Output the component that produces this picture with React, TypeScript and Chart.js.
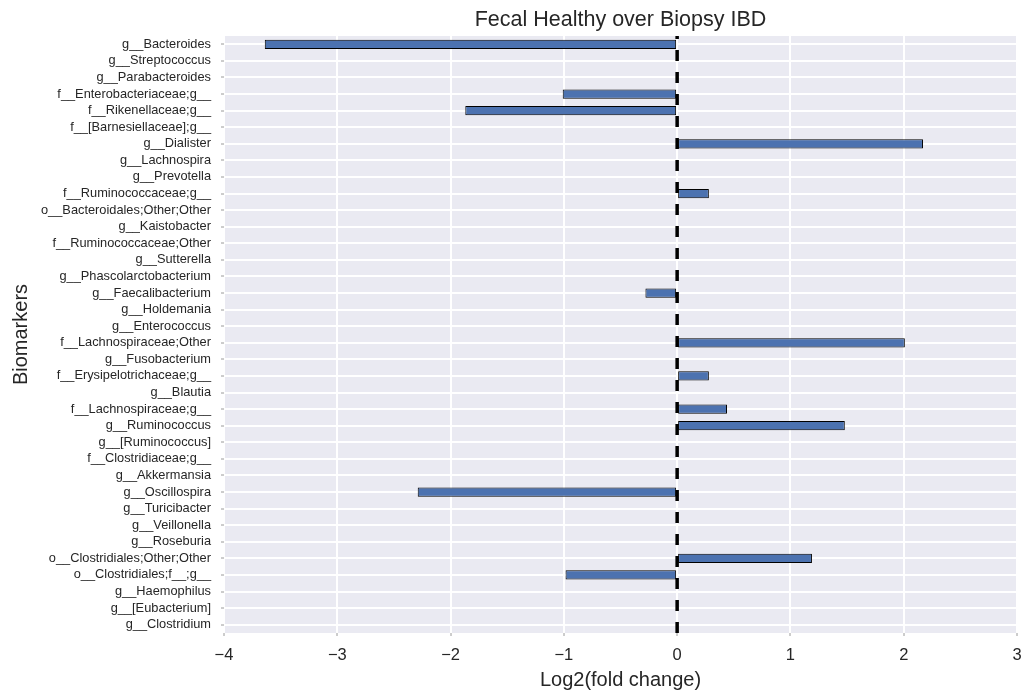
import React, { useEffect, useRef } from "react";
import { Chart, registerables } from "chart.js";

Chart.register(...registerables);

const categories: string[] = [
  "g__Bacteroides",
  "g__Streptococcus",
  "g__Parabacteroides",
  "f__Enterobacteriaceae;g__",
  "f__Rikenellaceae;g__",
  "f__[Barnesiellaceae];g__",
  "g__Dialister",
  "g__Lachnospira",
  "g__Prevotella",
  "f__Ruminococcaceae;g__",
  "o__Bacteroidales;Other;Other",
  "g__Kaistobacter",
  "f__Ruminococcaceae;Other",
  "g__Sutterella",
  "g__Phascolarctobacterium",
  "g__Faecalibacterium",
  "g__Holdemania",
  "g__Enterococcus",
  "f__Lachnospiraceae;Other",
  "g__Fusobacterium",
  "f__Erysipelotrichaceae;g__",
  "g__Blautia",
  "f__Lachnospiraceae;g__",
  "g__Ruminococcus",
  "g__[Ruminococcus]",
  "f__Clostridiaceae;g__",
  "g__Akkermansia",
  "g__Oscillospira",
  "g__Turicibacter",
  "g__Veillonella",
  "g__Roseburia",
  "o__Clostridiales;Other;Other",
  "o__Clostridiales;f__;g__",
  "g__Haemophilus",
  "g__[Eubacterium]",
  "g__Clostridium",
];

const log2FoldChange: number[] = [
  -3.64, 0, 0, -1.01, -1.87, 0, 2.17, 0, 0, 0.28, 0, 0, 0, 0, 0, -0.28, 0, 0,
  2.01, 0, 0.28, 0, 0.44, 1.48, 0, 0, 0, -2.29, 0, 0, 0, 1.19, -0.985, 0, 0, 0,
];

const xTicks: number[] = [-4, -3, -2, -1, 0, 1, 2, 3];

const titleText = "Fecal Healthy over Biopsy IBD";
const xTitle = "Log2(fold change)";
const yTitle = "Biomarkers";

const FONT = "'Liberation Sans', Arial, sans-serif";
const TEXT = "#262626";

const bgPlugin = {
  id: "bgPlugin",
  beforeDraw(chart: any) {
    const { ctx, chartArea, width, height } = chart;
    ctx.save();
    ctx.fillStyle = "#ffffff";
    ctx.fillRect(0, 0, width, height);
    ctx.fillStyle = "#EAEAF2";
    ctx.fillRect(
      chartArea.left,
      chartArea.top,
      chartArea.right - chartArea.left,
      chartArea.bottom - chartArea.top
    );
    ctx.restore();
  },
};

const zeroLinePlugin = {
  id: "zeroLinePlugin",
  afterDatasetsDraw(chart: any) {
    const { ctx, chartArea } = chart;
    const x0 = chart.scales.x.getPixelForValue(0);
    ctx.save();
    ctx.beginPath();
    ctx.rect(chartArea.left, chartArea.top, chartArea.right - chartArea.left, chartArea.bottom - chartArea.top);
    ctx.clip();
    ctx.strokeStyle = "#000000";
    ctx.lineWidth = 3.5;
    ctx.setLineDash([11, 11]);
    ctx.beginPath();
    ctx.moveTo(x0, chartArea.bottom);
    ctx.lineTo(x0, chartArea.top);
    ctx.stroke();
    ctx.restore();
  },
};

const titlePlugin = {
  id: "titlePlugin",
  afterDraw(chart: any) {
    const { ctx, chartArea } = chart;
    ctx.save();
    ctx.fillStyle = TEXT;
    ctx.font = `21.5px ${FONT}`;
    ctx.textAlign = "center";
    ctx.textBaseline = "middle";
    ctx.fillText(titleText, (chartArea.left + chartArea.right) / 2, 20);
    ctx.restore();
  },
};

export default function App() {
  const ref = useRef<HTMLCanvasElement | null>(null);

  useEffect(() => {
    if (!ref.current) return;
    const chart = new Chart(ref.current, {
      type: "bar",
      data: {
        labels: categories,
        datasets: [
          {
            data: log2FoldChange,
            backgroundColor: "#4C72B0",
            borderColor: "#000000",
            borderWidth: 1,
            borderSkipped: false,
            barPercentage: 0.56,
            categoryPercentage: 1.0,
          },
        ],
      },
      options: {
        indexAxis: "y",
        responsive: false,
        animation: false,
        devicePixelRatio: 1,
        layout: { padding: { top: 36, right: 13, bottom: 0, left: 0 } },
        plugins: {
          legend: { display: false },
          tooltip: { enabled: false },
          title: { display: false },
        },
        scales: {
          x: {
            type: "linear",
            min: -4,
            max: 3,
            afterBuildTicks: (scale: any) => {
              scale.ticks = xTicks.map((v) => ({ value: v }));
            },
            afterFit: (scale: any) => {
              scale.height = 62;
              scale.paddingLeft = 0;
              scale.paddingRight = 0;
            },
            grid: {
              color: "#ffffff",
              lineWidth: 2,
              drawTicks: true,
              tickLength: 3,
              tickColor: "#9a9a9a",
              tickWidth: 1,
            },
            border: { display: false },
            ticks: {
              color: TEXT,
              font: { family: FONT, size: 16.5 },
              padding: 10,
              maxRotation: 0,
              callback: (v: any) => String(v).replace("-", "\u2212"),
            },
            title: {
              display: true,
              text: xTitle,
              color: TEXT,
              font: { family: FONT, size: 20 },
              padding: { top: 0, bottom: 3 },
            },
          },
          y: {
            type: "category",
            offset: true,
            afterFit: (scale: any) => {
              scale.width = 224;
              scale.paddingTop = 0;
              scale.paddingBottom = 0;
            },
            grid: {
              color: "#ffffff",
              lineWidth: 2,
              offset: false,
              drawTicks: true,
              tickLength: 3,
              tickColor: "#9a9a9a",
              tickWidth: 1,
            },
            border: { display: false },
            ticks: {
              color: TEXT,
              font: { family: FONT, size: 12.8 },
              padding: 10,
              autoSkip: false,
            },
            title: {
              display: true,
              text: yTitle,
              color: TEXT,
              font: { family: FONT, size: 20 },
              padding: { top: 9, bottom: 0 },
            },
          },
        },
      },
      plugins: [bgPlugin, zeroLinePlugin, titlePlugin],
    } as any);
    return () => chart.destroy();
  }, []);

  return (
    <div style={{ position: "fixed", left: 0, top: 0, width: 1030, height: 695, background: "#fff" }}>
      <canvas ref={ref} width={1030} height={695} style={{ display: "block", width: 1030, height: 695 }} />
    </div>
  );
}
